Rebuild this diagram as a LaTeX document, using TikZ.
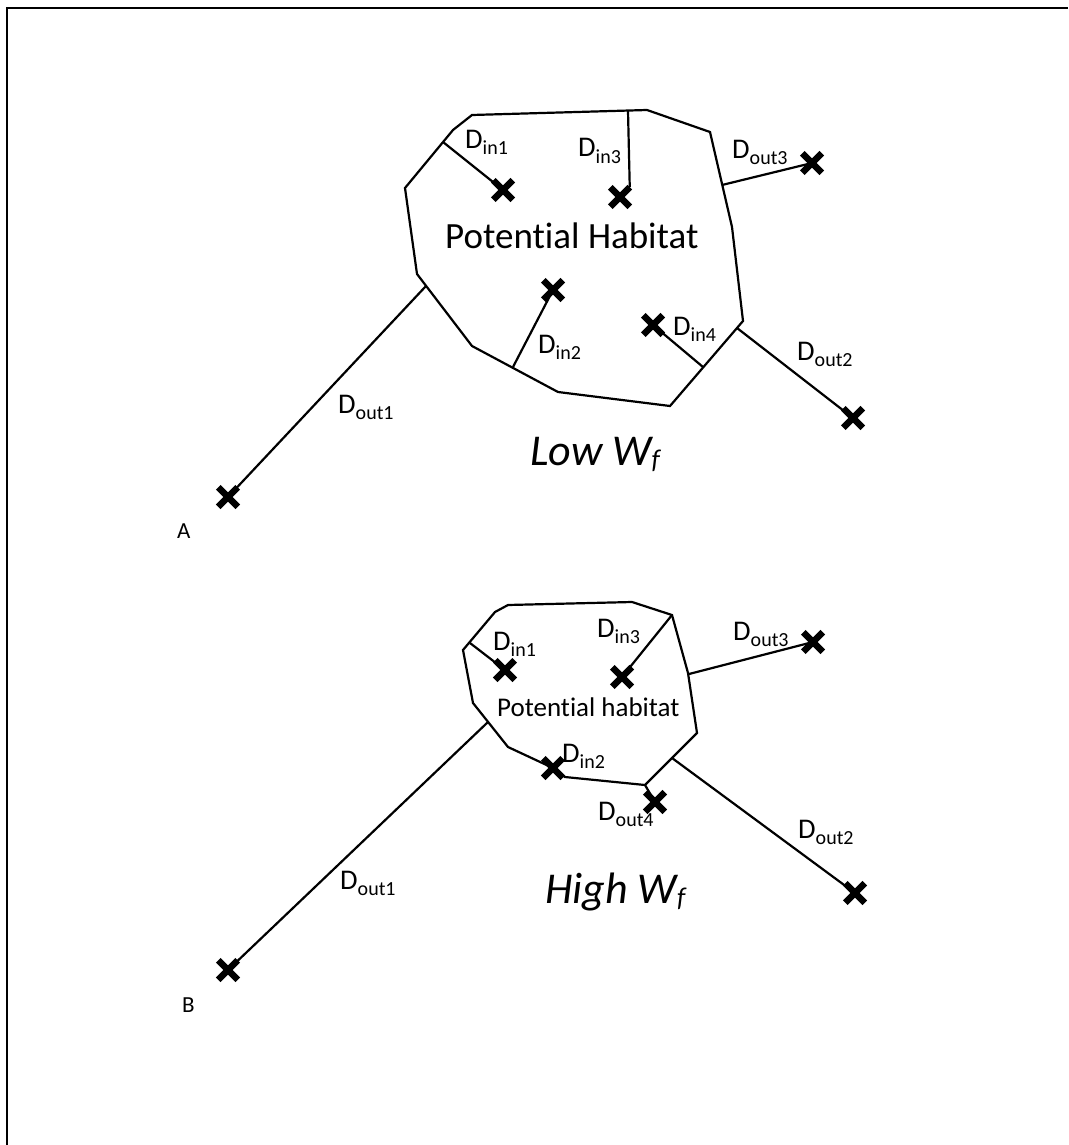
\documentclass[tikz,border=0pt]{standalone}
\usepackage{fontspec}
\setmainfont{Carlito}[Ligatures=NoCommon]
\usetikzlibrary{shapes.misc}
\newcommand\Dsub[1]{D\raisebox{-6pt}{\fontsize{20}{22}\selectfont #1}}
\newcommand\Wf{W\raisebox{-3pt}{\fontsize{27}{29}\selectfont f}}
\tikzset{
  edge/.style={line width=2.2pt, line join=miter},
  frame/.style={line width=2.5pt},
  xmark/.style={cross out, draw, line width=6.5pt, minimum size=13pt, inner sep=0pt},
  dlab/.style={anchor=base west, inner sep=0pt, font=\fontsize{28.5}{30}\selectfont},
  hablab/.style={anchor=base west, inner sep=0pt},
  wlab/.style={anchor=base west, inner sep=0pt, font=\fontsize{44}{48}\selectfont\itshape},
  panlab/.style={anchor=base west, inner sep=0pt, font=\fontsize{23}{25}\selectfont}
}
\begin{document}
\begin{tikzpicture}[x=1pt,y=-1pt]
\useasboundingbox (0,0) rectangle (1068,1145);
\draw[frame] (7,1145) -- (7,8) -- (1068,8);

% ---------- Panel A ----------
\draw[edge] (472,115) -- (647,110) -- (710,132) -- (732,227) -- (743,321) -- (670,406)
  -- (558,392) -- (472,346) -- (417,274) -- (405,188) -- (453,130) -- cycle;
\coordinate (a1s) at (443,142);
\coordinate (a3s) at (628,111);
\coordinate (a2s) at (513,367);
\coordinate (a4s) at (703,367);
\coordinate (ao1s) at (426,286);
\coordinate (ao2s) at (737,328);
\coordinate (ao3s) at (722,185);

\node[xmark] (ax1) at (503,190) {};
\node[xmark] (ax3) at (620,197) {};
\node[xmark] (ax2) at (553,290) {};
\node[xmark] (ax4) at (653,325) {};
\node[xmark] (axo1) at (228,497) {};
\node[xmark] (axo2) at (853,418) {};
\node[xmark] (axo3) at (812,163) {};

\draw[edge] (a1s) -- (ax1.center);
\draw[edge] (a3s) -- (ax3.north east);
\draw[edge] (a2s) -- (ax2.center);
\draw[edge] (ax4.center) -- (a4s);
\draw[edge] (ao1s) -- (axo1.center);
\draw[edge] (ao2s) -- (axo2.center);
\draw[edge] (ao3s) -- (axo3.center);

\node[dlab] (la1) at (465,148) {\Dsub{in1}};
\node[dlab] (la3) at (578,157) {\Dsub{in3}};
\node[dlab] (la2) at (538,353) {\Dsub{in2}};
\node[dlab] (la4) at (673,335) {\Dsub{in4}};
\node[dlab] (lao3) at (732,158) {\Dsub{out3}};
\node[dlab] (lao2) at (797,360) {\Dsub{out2}};
\node[dlab] (lao1) at (338,413) {\Dsub{out1}};
\node[hablab, font=\fontsize{37}{40}\selectfont] (hA) at (445,248) {Potential Habitat};
\node[wlab] (wA) at (530,465) {Low \Wf};
\node[panlab] (pA) at (177,538) {A};

% ---------- Panel B ----------
\draw[edge] (508,605) -- (632,602) -- (672,615) -- (688,673) -- (697,733) -- (645,785)
  -- (565,777) -- (553,768) -- (508,747) -- (473,703) -- (463,650) -- (495,612) -- cycle;
\coordinate (b1s) at (470,643);
\coordinate (b3s) at (672,615);
\coordinate (bo4s) at (645,785);
\coordinate (bo1s) at (488,722);
\coordinate (bo2s) at (672,758);
\coordinate (bo3s) at (689,674);

\node[xmark] (bx1) at (505,670) {};
\node[xmark] (bx3) at (622,677) {};
\node[xmark] (bx2) at (553,768) {};
\node[xmark] (bxo4) at (655,802) {};
\node[xmark] (bxo1) at (228,970) {};
\node[xmark] (bxo2) at (855,893) {};
\node[xmark] (bxo3) at (813,642) {};

\draw[edge] (b1s) -- (bx1.center);
\draw[edge] (b3s) -- (bx3.center);
\draw[edge] (bo4s) -- (bxo4.center);
\draw[edge] (bo1s) -- (bxo1.center);
\draw[edge] (bo2s) -- (bxo2.center);
\draw[edge] (bo3s) -- (bxo3.center);

\node[dlab] (lb1) at (493,650) {\Dsub{in1}};
\node[dlab] (lb3) at (597,637) {\Dsub{in3}};
\node[dlab] (lb2) at (562,762) {\Dsub{in2}};
\node[dlab] (lbo4) at (598,820) {\Dsub{out4}};
\node[dlab] (lbo3) at (733,640) {\Dsub{out3}};
\node[dlab] (lbo2) at (798,838) {\Dsub{out2}};
\node[dlab] (lbo1) at (340,889) {\Dsub{out1}};
\node[hablab, font=\fontsize{27}{30}\selectfont] (hB) at (497,716) {Potential habitat};
\node[wlab] (wB) at (545,903) {High \Wf};
\node[panlab] (pB) at (182,1012) {B};
\end{tikzpicture}
\end{document}
